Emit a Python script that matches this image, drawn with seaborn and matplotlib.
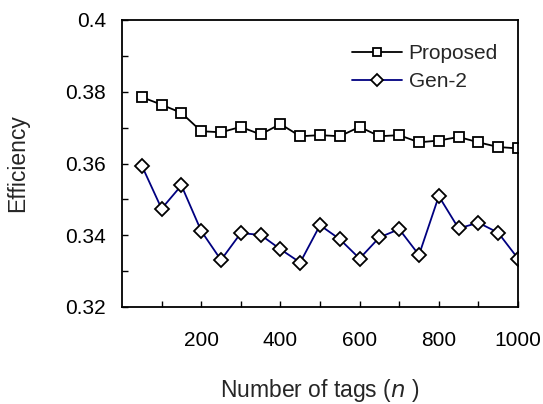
import matplotlib
matplotlib.use("Agg")
import matplotlib.pyplot as plt
import seaborn as sns
import pandas as pd
from matplotlib.ticker import MultipleLocator, FixedLocator

n_tags = [50, 100, 150, 200, 250, 300, 350, 400, 450, 500,
          550, 600, 650, 700, 750, 800, 850, 900, 950, 1000]
proposed = [0.3785, 0.3764, 0.3741, 0.3690, 0.3687, 0.3702, 0.3681, 0.3710, 0.3676, 0.3679,
            0.3676, 0.3702, 0.3676, 0.3679, 0.3659, 0.3664, 0.3674, 0.3659, 0.3646, 0.3642]
gen2 = [0.3594, 0.3474, 0.3539, 0.3412, 0.3331, 0.3406, 0.3401, 0.3361, 0.3324, 0.3428,
        0.3389, 0.3335, 0.3394, 0.3417, 0.3345, 0.3509, 0.3419, 0.3435, 0.3407, 0.3335]
series_names = ["Proposed", "Gen-2"]
x_ticks = [200, 400, 600, 800, 1000]
y_ticks = [0.32, 0.34, 0.36, 0.38, 0.4]

sns.set_style("white")
plt.rcParams['font.family'] = ['Liberation Sans', 'DejaVu Sans']

fig = plt.figure(figsize=(5.43, 4.04), dpi=100)
ax = fig.add_axes([122/543, 1-307/404, (518-122)/543, (307-20)/404])

df_p = pd.DataFrame({"n": n_tags, "eff": proposed})
df_g = pd.DataFrame({"n": n_tags, "eff": gen2})

sns.lineplot(data=df_p, x="n", y="eff", ax=ax, color="black", lw=1.3,
             marker="s", markersize=7, markerfacecolor="white",
             markeredgecolor="black", markeredgewidth=1.3, label=series_names[0])
sns.lineplot(data=df_g, x="n", y="eff", ax=ax, color="#000080", lw=1.3,
             marker="D", markersize=7.5, markerfacecolor="white",
             markeredgecolor="black", markeredgewidth=1.3, label=series_names[1])

ax.set_xlim(0, 1000)
ax.set_ylim(0.32, 0.4)
ax.xaxis.set_major_locator(FixedLocator(x_ticks))
ax.xaxis.set_minor_locator(FixedLocator([100, 300, 500, 700, 900]))
ax.yaxis.set_major_locator(FixedLocator(y_ticks))
ax.yaxis.set_minor_locator(MultipleLocator(0.01))
ax.set_yticklabels(["0.32", "0.34", "0.36", "0.38", "0.4"])
ax.tick_params(axis="both", which="both", direction="in", length=4, width=1,
               labelsize=15, colors="black", bottom=True, left=True, top=False, right=False)
ax.tick_params(axis="x", which="major", pad=17)
ax.tick_params(axis="y", which="major", pad=11.5)

for s in ax.spines.values():
    s.set_color("black")
    s.set_linewidth(1.3)
    s.set_visible(True)

ax.set_xlabel("Number of tags ($\\it{n}$ )", fontsize=16.5, labelpad=20)
ax.set_ylabel("Efficiency", fontsize=16.5, labelpad=26)

ax.legend(loc="upper right", bbox_to_anchor=(0.97, 0.945), frameon=False,
          fontsize=15, handlelength=2.4, handletextpad=0.3, labelspacing=0.45,
          borderaxespad=0, markerscale=0.75)

fig.savefig("out.png", dpi=100, facecolor="white")
